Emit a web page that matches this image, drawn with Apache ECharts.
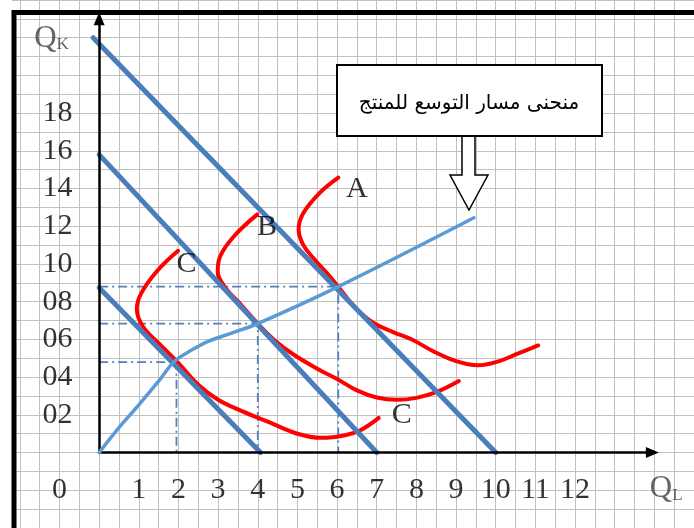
<!DOCTYPE html>
<html>
<head>
<meta charset="utf-8">
<script src="https://cdn.jsdelivr.net/npm/echarts@6/dist/echarts.min.js"></script>
<style>
html, body { margin: 0; padding: 0; background: #fff; }
#chart { width: 694px; height: 528px; }
</style>
</head>
<body>
<div id="chart"></div>
<script>
// خطوط التكلفة المتساوية
const isocostHigh = [[-0.15, 22.0], [10.0, 0]];
const isocostMid = [[0, 15.8], [7.0, 0]];
const isocostLow = [[0, 8.74], [4.07, 0]];

// منحنيات الناتج المتساوي
const isoquantC = [[1.99, 10.7], [1.45, 9.6], [1.05, 8.4], [0.95, 7.6], [1.1, 6.7], [1.5, 5.8],
  [2.0, 4.74], [2.5, 3.6], [3.0, 2.8], [3.6, 2.2], [4.3, 1.6], [5.0, 1.0], [5.6, 0.78],
  [6.2, 0.92], [6.6, 1.2], [7.05, 1.84]];
const isoquantB = [[3.99, 12.63], [3.4, 11.47], [3.05, 10.4], [2.99, 9.6], [3.2, 8.7], [3.55, 7.9],
  [4.0, 6.84], [4.4, 6.0], [4.9, 5.2], [5.5, 4.45], [6.0, 3.9], [6.5, 3.3], [7.0, 2.92],
  [7.5, 2.8], [8.0, 2.9], [8.5, 3.2], [9.07, 3.79]];
const isoquantA = [[6.03, 14.58], [5.55, 13.75], [5.15, 12.7], [5.03, 11.84], [5.15, 11.0], [5.45, 10.2],
  [5.75, 9.5], [6.03, 8.79], [6.45, 7.7], [6.9, 6.9], [7.4, 6.4], [7.9, 5.98], [8.4, 5.4],
  [9.0, 4.85], [9.55, 4.63], [10.07, 4.84], [10.57, 5.26], [11.07, 5.68]];

// مسار التوسع
const expansionPath = [[0, 0], [0.5, 1.32], [1.0, 2.53], [1.5, 3.79], [1.9, 4.84], [2.32, 5.42],
  [2.75, 5.9], [3.32, 6.32], [4.0, 6.84], [6.03, 8.8], [9.45, 12.45]];

// نقاط التوازن (الخطوط المنقطة)
const optimumL = [1.95, 4.0, 6.03];
const optimumK = [4.8, 6.84, 8.8];

const xTicks = [1, 2, 3, 4, 5, 6, 7, 8, 9, 10, 11, 12];
const yTicks = ['02', '04', '06', '08', '10', '12', '14', '16', '18'];
const curveLabels = [['A', 6.5, 13.95], ['B', 4.23, 11.95], ['C', 2.2, 10.0], ['C', 7.63, 2.0]];

const serif = 'Liberation Serif';

function lineSeries(data, color, width, smooth, z) {
  return {
    type: 'line', data: data, symbol: 'none', smooth: smooth, z: z, silent: true,
    lineStyle: { color: color, width: width, cap: 'round' }
  };
}

function textSeries(data, fontSize) {
  return {
    type: 'scatter', data: data, symbolSize: 1, itemStyle: { color: 'rgba(0,0,0,0)' }, z: 10, silent: true,
    label: {
      show: true, position: 'inside', color: '#000', fontFamily: serif, fontSize: fontSize,
      formatter: p => p.value[2]
    }
  };
}

const series = [
  lineSeries(isoquantC, '#ff0000', 4, 0.4, 3),
  lineSeries(isoquantB, '#ff0000', 4, 0.4, 3),
  lineSeries(isoquantA, '#ff0000', 4, 0.4, 3),
  lineSeries(isocostHigh, '#4a7ebb', 5, false, 4),
  lineSeries(isocostMid, '#4a7ebb', 5, false, 4),
  lineSeries(isocostLow, '#4a7ebb', 5, false, 4),
  lineSeries(expansionPath, '#5b9bd5', 3.5, 0.35, 5)
];

optimumL.forEach((l, i) => {
  series.push({
    type: 'line', symbol: 'none', z: 2, silent: true,
    data: [[0, optimumK[i]], [l, optimumK[i]], [l, 0]],
    lineStyle: { color: '#4f81bd', width: 1.8, type: [9, 4, 2, 4] }
  });
});

// المحاور
series.push({
  type: 'line', data: [], z: 6, silent: true,
  markLine: {
    silent: true, symbol: ['none', 'triangle'], symbolSize: [11, 13],
    label: { show: false },
    lineStyle: { color: '#000', width: 2.5, type: 'solid' },
    data: [
      [{ coord: [0, 0] }, { coord: [13.95, 0] }],
      [{ coord: [0, 0] }, { coord: [0, 23.0] }]
    ]
  }
});

series.push(textSeries(xTicks.map(v => [v, -2, String(v)]), 30));
series.push(textSeries([[-1, -2, '0']], 30));
series.push(textSeries(yTicks.map(t => [-1.05, Number(t), t]), 30));
series.push(textSeries(curveLabels.map(c => [c[1], c[2], c[0]]), 30));
series.push({
  type: 'scatter', symbolSize: 1, itemStyle: { color: 'rgba(0,0,0,0)' }, z: 10, silent: true,
  data: [[-1.2, 21.95, 'K'], [14.3, -1.95, 'L']],
  label: {
    show: true, position: 'inside', fontFamily: serif, color: '#404040',
    formatter: p => '{q|Q}{s|' + p.value[2] + '}',
    rich: {
      q: { fontSize: 31, fontFamily: serif, color: '#404040' },
      s: { fontSize: 17, fontFamily: serif, color: '#404040', verticalAlign: 'bottom', padding: [0, 0, 1, 0] }
    }
  }
});

const chart = echarts.init(document.getElementById('chart'));
chart.setOption({
  animation: false,
  backgroundColor: '#fff',
  grid: { left: -3, top: -1, width: 700, height: 532 },
  xAxis: {
    type: 'value', min: -2.5, max: 15, interval: 0.5,
    axisLine: { show: false }, axisTick: { show: false }, axisLabel: { show: false },
    splitLine: { show: true, lineStyle: { color: '#c0c0c0', width: 1 } }
  },
  yAxis: {
    type: 'value', min: -4, max: 24, interval: 1,
    axisLine: { show: false }, axisTick: { show: false }, axisLabel: { show: false },
    splitLine: { show: true, lineStyle: { color: '#c0c0c0', width: 1 } }
  },
  series: series,
  graphic: [
    { type: 'rect', z: 1, shape: { x: 0, y: 0, width: 12, height: 528 }, style: { fill: '#fff' } },
    { type: 'rect', z: 20, shape: { x: 14, y: 12.5, width: 720, height: 560 },
      style: { fill: 'none', stroke: '#000', lineWidth: 5 } },
    { type: 'polygon', z: 20,
      shape: { points: [[462, 136], [475, 136], [475, 175], [488, 175], [469, 210], [450, 175], [462, 175]] },
      style: { fill: '#fff', stroke: '#000', lineWidth: 1.5 } },
    { type: 'rect', z: 21, shape: { x: 337, y: 65, width: 265, height: 71 },
      style: { fill: '#fff', stroke: '#000', lineWidth: 2 } },
    { type: 'text', z: 22, x: 469, y: 104,
      style: { text: 'منحنى مسار التوسع للمنتج', fontFamily: 'DejaVu Sans', fontSize: 20,
        fill: '#000', align: 'center', verticalAlign: 'middle' } }
  ]
});
</script>
</body>
</html>
